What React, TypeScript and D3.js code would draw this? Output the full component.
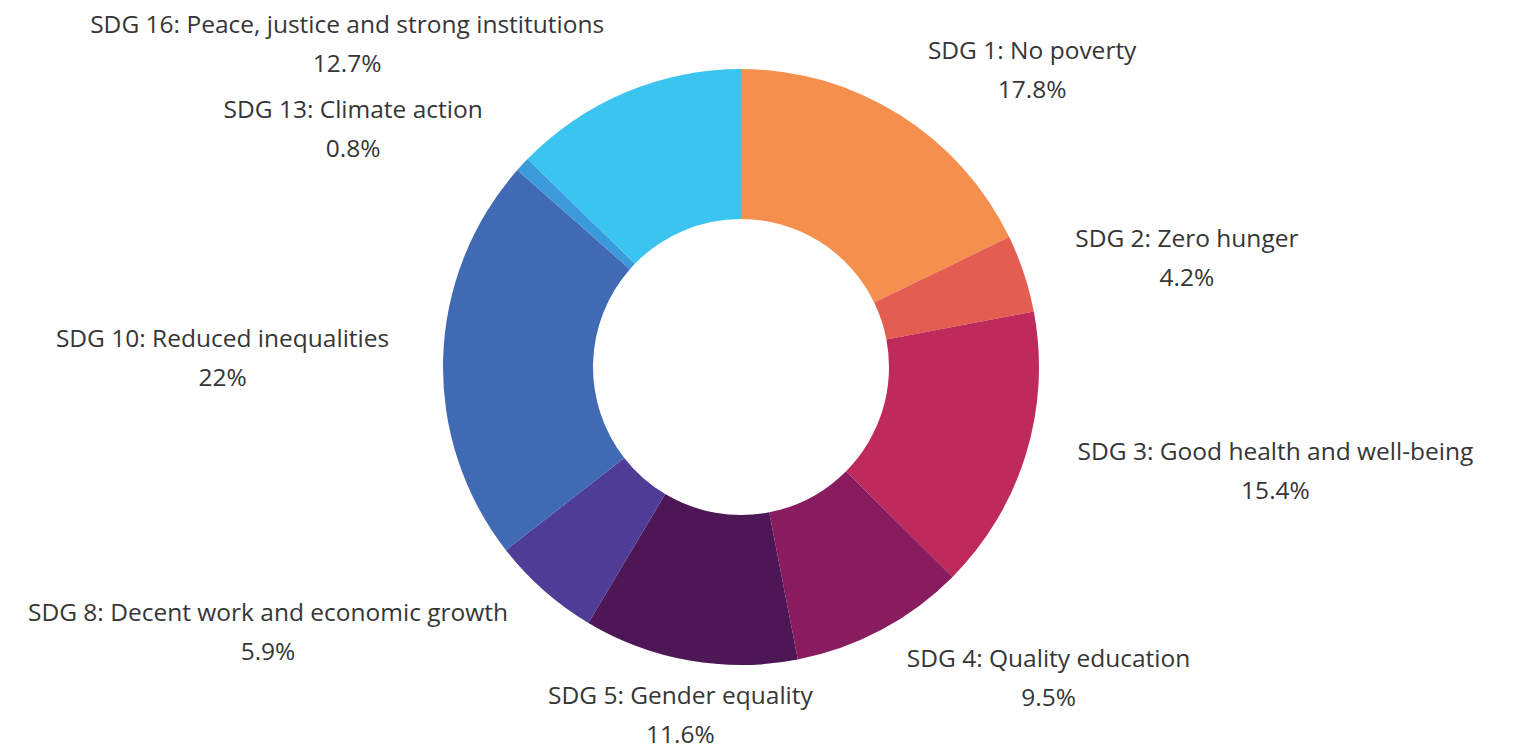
import React, { useRef, useEffect } from "react";
import * as d3 from "d3";

const categories = [
  "SDG 1: No poverty",
  "SDG 2: Zero hunger",
  "SDG 3: Good health and well-being",
  "SDG 4: Quality education",
  "SDG 5: Gender equality",
  "SDG 8: Decent work and economic growth",
  "SDG 10: Reduced inequalities",
  "SDG 13: Climate action",
  "SDG 16: Peace, justice and strong institutions",
];

const shares = [17.8, 4.2, 15.4, 9.5, 11.6, 5.9, 22, 0.8, 12.7];

const sliceColors = [
  "#F58F4E",
  "#E35D51",
  "#BE2A5B",
  "#891C5F",
  "#4D1756",
  "#4E3C96",
  "#416AB4",
  "#3B9AD9",
  "#3CC4F0",
];

const WIDTH = 1520;
const HEIGHT = 753;

export default function App() {
  const svgRef = useRef<SVGSVGElement>(null);

  useEffect(() => {
    if (!svgRef.current) return;
    const root = d3.select(svgRef.current);
    root.selectAll("*").remove();

    const cx = 741;
    const cy = 367;
    const outerRadius = 298;
    const innerRadius = 148;
    const labelRadius = 352;
    const lineGap = 39;

    const data = categories.map((name, i) => ({ name, value: shares[i], color: sliceColors[i] }));

    const pie = d3.pie<typeof data[number]>().sort(null).value(d => d.value);
    const arc = d3.arc<d3.PieArcDatum<typeof data[number]>>()
      .innerRadius(innerRadius)
      .outerRadius(outerRadius);

    const g = root.append("g").attr("transform", `translate(${cx},${cy})`);
    const arcs = pie(data);

    g.selectAll("path.slice")
      .data(arcs)
      .enter()
      .append("path")
      .attr("class", "slice")
      .attr("d", arc)
      .attr("fill", d => d.data.color);

    // labels: block placed on a circle at the mid angle, near edge touching it
    const labels = g.selectAll("g.label")
      .data(arcs)
      .enter()
      .append("g")
      .attr("class", "label")
      .attr("font-family", "'Open Sans', sans-serif")
      .attr("font-size", 24.5)
      .attr("fill", "#363636");

    labels.each(function(d) {
      const grp = d3.select(this);
      const mid = (d.startAngle + d.endAngle) / 2;
      const px = Math.sin(mid) * labelRadius;
      const py = -Math.cos(mid) * labelRadius;

      const title = grp.append("text")
        .attr("text-anchor", "middle")
        .attr("dominant-baseline", "central")
        .attr("y", py - lineGap / 2)
        .text(d.data.name);
      grp.append("text")
        .attr("text-anchor", "middle")
        .attr("dominant-baseline", "central")
        .attr("y", py + lineGap / 2)
        .text(`${d.data.value}%`);

      const w = (title.node() as SVGTextElement).getComputedTextLength();
      const s = Math.sin(mid);
      let x = px;
      if (s > 0.25) x = px + w / 2;
      else if (s < -0.25) x = px - w / 2;
      grp.selectAll("text").attr("x", x);
    });
  }, []);

  return (
    <svg
      ref={svgRef}
      width={WIDTH}
      height={HEIGHT}
      style={{ position: "absolute", left: 0, top: 0, background: "#ffffff" }}
    />
  );
}
